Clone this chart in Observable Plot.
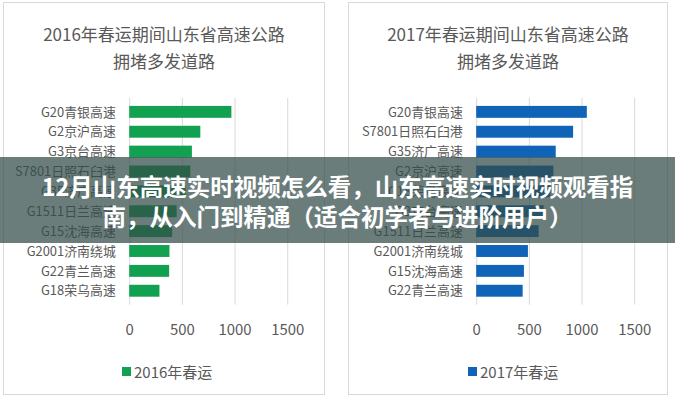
<!DOCTYPE html>
<html><head><meta charset="utf-8">
<script src="https://cdn.jsdelivr.net/npm/d3@7"></script>
<script src="https://cdn.jsdelivr.net/npm/@observablehq/plot@0.6"></script>
<style>
body{margin:0;width:675px;height:400px;background:#fff;font-family:"Noto Sans CJK SC","Noto Sans",sans-serif;position:relative;overflow:hidden}
.panel{position:absolute;top:2px;height:393px;border:1px solid #d9d9d9;box-sizing:border-box;background:#fff}
.title{position:absolute;left:0;right:0;text-align:center;color:#595959;font-size:17px;line-height:27px}
.legend{position:absolute;top:358px;font-size:15px;color:#595959;display:flex;align-items:center;white-space:nowrap}
.legend i{display:inline-block;width:9px;height:9px;margin-right:3px}
.chart{position:absolute;left:0;top:88px}
.banner{position:absolute;left:0;top:157px;width:675px;height:86px;background:rgba(50,75,72,0.72);color:#fff;font-weight:bold;font-size:23.5px;line-height:30px;text-align:center}
.banner div{position:absolute;left:0;right:0;white-space:nowrap}
</style></head><body>
<div class="panel" id="p1" style="left:3px;width:322px"></div>
<div class="panel" id="p2" style="left:348px;width:320px"></div>
<div class="banner"><div style="top:14px">12月山东高速实时视频怎么看，山东高速实时视频观看指</div><div style="top:44px">南，从入门到精通（适合初学者与进阶用户）</div></div>
<script>
const roads2016 = ["G20青银高速","G2京沪高速","G3京台高速","S7801日照石臼港","G35济广高速","G1511日兰高速","G15沈海高速","G2001济南绕城","G22青兰高速","G18荣乌高速"];
const values2016 = [970, 675, 595, 580, 535, 450, 408, 382, 379, 287];
const roads2017 = ["G20青银高速","S7801日照石臼港","G35济广高速","G2京沪高速","G18荣乌高速","G3京台高速","G1511日兰高速","G2001济南绕城","G15沈海高速","G22青兰高速"];
const values2017 = [1050, 920, 755, 733, 705, 640, 593, 491, 453, 441];
const xTicks = [0, 500, 1000, 1500];
const titles2016 = ["2016年春运期间山东省高速公路", "拥堵多发道路"];
const titles2017 = ["2017年春运期间山东省高速公路", "拥堵多发道路"];
const legend2016 = "2016年春运";
const legend2017 = "2017年春运";

function panel(id, roads, values, titles, legendText, color, width, mLeft, mRight, legendLeft){
  const el = document.getElementById(id);
  titles.forEach((t,i)=>{
    const d = document.createElement("div");
    d.className = "title"; d.style.top = (17 + i*27) + "px"; d.textContent = t;
    el.appendChild(d);
  });
  const data = roads.map((r,i)=>({road:r, value:values[i]}));
  const chart = Plot.plot({
    width, height: 252,
    marginLeft: mLeft, marginRight: mRight, marginTop: 7, marginBottom: 37,
    style:{fontFamily:'"Noto Sans CJK SC","Noto Sans",sans-serif', color:"#595959", background:"transparent"},
    x:{domain:[0,1500], ticks:xTicks, tickSize:0, tickPadding:19, label:null},
    y:{domain:roads, padding:0.4, tickSize:0, tickPadding:14, label:null},
    marks:[
      Plot.gridX(xTicks, {stroke:"#d9d9d9", strokeOpacity:1}),
      Plot.barX(data, {x:"value", y:"road", fill:color}),
      Plot.axisX({ticks:xTicks, tickSize:0, tickPadding:19, fontSize:15, fill:"#595959", tickFormat:d=>String(d)}),
      Plot.axisY({tickSize:0, tickPadding:14, fontSize:13, fill:"#595959"})
    ]
  });
  chart.classList.add("chart");
  el.appendChild(chart);
  const lg = document.createElement("div");
  lg.className = "legend"; lg.style.left = legendLeft + "px";
  lg.innerHTML = `<i style="background:${color}"></i>`;
  lg.appendChild(document.createTextNode(legendText));
  el.appendChild(lg);
}
panel("p1", roads2016, values2016, titles2016, legend2016, "#12a150", 322, 126, 37, 118);
panel("p2", roads2017, values2017, titles2017, legend2017, "#0f64b8", 320, 128, 33, 119);
</script>
</body></html>
